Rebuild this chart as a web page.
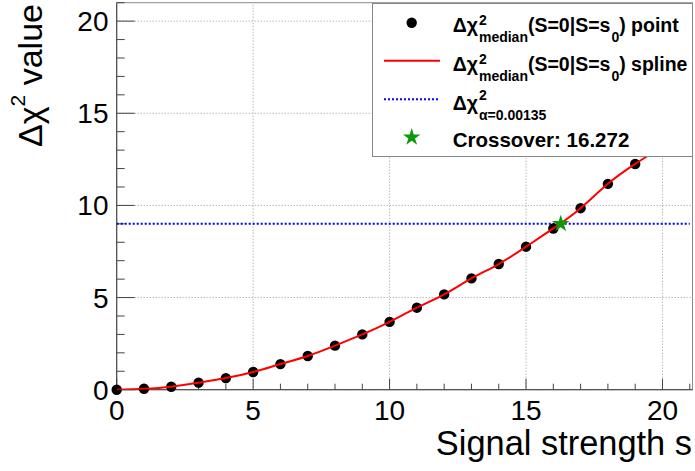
<!DOCTYPE html>
<html>
<head>
<meta charset="utf-8">
<script src="https://cdn.jsdelivr.net/npm/d3@7"></script>
<style>
  body { margin: 0; background: #fff; }
  svg { display: block; font-family: "Liberation Sans", Arial, Helvetica, sans-serif; }
</style>
</head>
<body>
<div id="chart"></div>
<script>
// Data

const signalStrength = [0, 1, 2, 3, 4, 5, 6, 7, 8, 9, 10, 11, 12, 13, 14, 15, 16, 17, 18, 19, 20];
const deltaChi2Median = [0, 0.05, 0.16, 0.38, 0.63, 0.96, 1.39, 1.83, 2.39, 3.0, 3.68, 4.45, 5.17, 6.04, 6.82, 7.76, 8.75, 9.85, 11.17, 12.25, 13.2];
const thresholdValue = 9.0;
const crossoverValue = 16.272;
const xTickValues = [0, 5, 10, 15, 20];
const yTickValues = [0, 5, 10, 15, 20];
const xDomain = [0, 21.1];
const yDomain = [0, 21];

const points = signalStrength.map((s, i) => ({ s: s, v: deltaChi2Median[i] }));

// Core chart

const width = 695;
const height = 471;

const margin = {
  top: 2.7,
  bottom: 81.3,
  left: 116.7,
  right: 2.5,
};

const svg = d3
  .select("#chart")
  .append("svg")
  .attr("width", width)
  .attr("height", height);

const xScale = d3
  .scaleLinear()
  .domain(xDomain)
  .range([margin.left, width - margin.right]);

const yScale = d3
  .scaleLinear()
  .domain(yDomain)
  .range([height - margin.bottom, margin.top]);

const x0 = xScale.range()[0];
const x1 = xScale.range()[1];
const y0 = yScale.range()[0];
const y1 = yScale.range()[1];

svg
  .append("clipPath")
  .attr("id", "frame-clip")
  .append("rect")
  .attr("x", x0)
  .attr("y", y1)
  .attr("width", x1 - x0)
  .attr("height", y0 - y1);

// Grid

svg
  .append("g")
  .selectAll("line")
  .data(xTickValues)
  .enter()
  .append("line")
  .attr("x1", (d) => xScale(d))
  .attr("x2", (d) => xScale(d))
  .attr("y1", y0)
  .attr("y2", y1)
  .attr("stroke", "#9a9a9a")
  .attr("stroke-width", 1)
  .attr("stroke-dasharray", "1,2");

svg
  .append("g")
  .selectAll("line")
  .data(yTickValues)
  .enter()
  .append("line")
  .attr("x1", x0)
  .attr("x2", x1)
  .attr("y1", (d) => yScale(d))
  .attr("y2", (d) => yScale(d))
  .attr("stroke", "#9a9a9a")
  .attr("stroke-width", 1)
  .attr("stroke-dasharray", "1,2");

// Frame

svg
  .append("rect")
  .attr("x", x0)
  .attr("y", y1)
  .attr("width", x1 - x0)
  .attr("height", y0 - y1)
  .attr("fill", "none")
  .attr("stroke", "#8a8a8a")
  .attr("stroke-width", 1);

// Axes

const minorX = d3.range(0, 22, 1);
const minorY = d3.range(0, 22, 1);

svg
  .append("g")
  .selectAll("line")
  .data(minorX)
  .enter()
  .append("line")
  .attr("x1", (d) => xScale(d))
  .attr("x2", (d) => xScale(d))
  .attr("y1", y0)
  .attr("y2", (d) => y0 - (d % 5 === 0 ? 11 : 6))
  .attr("stroke", "#444")
  .attr("stroke-width", 1);

svg
  .append("g")
  .selectAll("line")
  .data(minorY)
  .enter()
  .append("line")
  .attr("x1", x0)
  .attr("x2", (d) => x0 + (d % 5 === 0 ? 18 : 8))
  .attr("y1", (d) => yScale(d))
  .attr("y2", (d) => yScale(d))
  .attr("stroke", "#444")
  .attr("stroke-width", 1);

svg
  .append("line")
  .attr("x1", x0)
  .attr("x2", x1)
  .attr("y1", y0)
  .attr("y2", y0)
  .attr("stroke", "#444");

svg
  .append("line")
  .attr("x1", x0)
  .attr("x2", x0)
  .attr("y1", y0)
  .attr("y2", y1)
  .attr("stroke", "#444");

svg
  .append("g")
  .selectAll("text")
  .data(xTickValues)
  .enter()
  .append("text")
  .attr("x", (d) => xScale(d))
  .attr("y", 419.5)
  .attr("text-anchor", "middle")
  .attr("font-size", "28px")
  .text((d) => d);

svg
  .append("g")
  .selectAll("text")
  .data(yTickValues)
  .enter()
  .append("text")
  .attr("x", 108.5)
  .attr("y", (d) => yScale(d) + 10)
  .attr("text-anchor", "end")
  .attr("font-size", "28px")
  .text((d) => d);

svg
  .append("text")
  .attr("x", 692)
  .attr("y", 455)
  .attr("text-anchor", "end")
  .attr("font-size", "34.4px")
  .text("Signal strength s");

const yTitle = svg
  .append("text")
  .attr("transform", "translate(42, 4) rotate(-90)")
  .attr("text-anchor", "end")
  .attr("font-size", "34px");
yTitle.append("tspan").text("Δχ");
yTitle.append("tspan").attr("font-size", "21px").attr("dy", -17).text("2");
yTitle.append("tspan").attr("dy", 17).text(" value");

// Curves and points

const plot = svg.append("g").attr("clip-path", "url(#frame-clip)");

svg
  .append("g")
  .selectAll("circle")
  .data(points)
  .enter()
  .append("circle")
  .attr("cx", (d) => xScale(d.s))
  .attr("cy", (d) => yScale(d.v))
  .attr("r", 5.2)
  .style("fill", "black");

const spline = d3
  .line()
  .curve(d3.curveNatural)
  .x((d) => xScale(d.s))
  .y((d) => yScale(d.v));

svg
  .append("path")
  .datum(points)
  .attr("clip-path", "url(#frame-clip)")
  .attr("fill", "none")
  .attr("stroke", "#ff0000")
  .attr("stroke-width", 2)
  .attr("d", spline);

plot
  .append("line")
  .attr("x1", xScale(0))
  .attr("x2", xScale(21))
  .attr("y1", yScale(thresholdValue))
  .attr("y2", yScale(thresholdValue))
  .attr("stroke", "#0000ff")
  .attr("stroke-width", 2)
  .attr("stroke-dasharray", "2,2");

const star = d3.symbol().type(d3.symbolStar).size(95);

svg
  .append("path")
  .attr("d", star)
  .attr("transform", `translate(${xScale(crossoverValue)}, ${yScale(thresholdValue)})`)
  .attr("fill", "#0c990c");

// Legend

const legend = svg.append("g");

legend
  .append("rect")
  .attr("x", 372.5)
  .attr("y", 3.5)
  .attr("width", 320)
  .attr("height", 153)
  .attr("fill", "white")
  .attr("stroke", "#888")
  .attr("stroke-width", 1);

function latexText(g, x, y, parts, supShift, size) {
  let cursor = x;
  parts.forEach((p) => {
    const main = g
      .append("text")
      .attr("x", cursor)
      .attr("y", y)
      .attr("font-size", size + "px")
      .attr("font-weight", "bold")
      .text(p.t);
    cursor += main.node().getComputedTextLength();
    let extra = 0;
    if (p.sup) {
      const sup = g
        .append("text")
        .attr("x", cursor + 1)
        .attr("y", y - supShift)
        .attr("font-size", "14px")
        .attr("font-weight", "bold")
        .text(p.sup);
      extra = Math.max(extra, sup.node().getComputedTextLength() + 1);
    }
    if (p.sub) {
      const sub = g
        .append("text")
        .attr("x", cursor + 1)
        .attr("y", y + 10)
        .attr("font-size", "14px")
        .attr("font-weight", "bold")
        .text(p.sub);
      extra = Math.max(extra, sub.node().getComputedTextLength() + 1);
    }
    cursor += extra;
  });
}

const symbolX = 411.7;
const textX = 452.7;

legend
  .append("circle")
  .attr("cx", symbolX)
  .attr("cy", 22.7)
  .attr("r", 5.2)
  .attr("fill", "black");
latexText(legend, textX, 31.5, [
  { t: "Δχ", sup: "2", sub: "median" },
  { t: "(S=0|S=s", sub: "0" },
  { t: ") point" },
], 7, 19.5);

legend
  .append("line")
  .attr("x1", 384)
  .attr("x2", 440)
  .attr("y1", 60.7)
  .attr("y2", 60.7)
  .attr("stroke", "#ff0000")
  .attr("stroke-width", 2);
latexText(legend, textX, 70.5, [
  { t: "Δχ", sup: "2", sub: "median" },
  { t: "(S=0|S=s", sub: "0" },
  { t: ") spline" },
], 7, 19.5);

legend
  .append("line")
  .attr("x1", 384)
  .attr("x2", 440)
  .attr("y1", 99.3)
  .attr("y2", 99.3)
  .attr("stroke", "#0000ff")
  .attr("stroke-width", 2)
  .attr("stroke-dasharray", "2,2");
latexText(legend, textX, 110, [{ t: "Δχ", sup: "2", sub: "α=0.00135" }], 10, 19.5);

legend
  .append("path")
  .attr("d", star)
  .attr("transform", `translate(${symbolX}, 137.3)`)
  .attr("fill", "#0c990c");
latexText(legend, textX, 146.5, [{ t: "Crossover: 16.272" }], 0, 20.5);
</script>
</body>
</html>
